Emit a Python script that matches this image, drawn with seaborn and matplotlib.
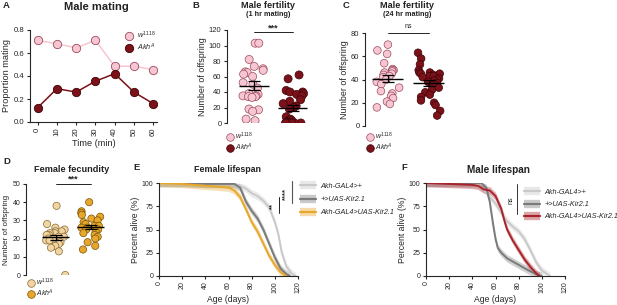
import numpy as np
import pandas as pd
import seaborn as sns
import matplotlib.pyplot as plt
from matplotlib.lines import Line2D

# ---- data ----
time_min = [0, 10, 20, 30, 40, 50, 60]
mating_w1118 = [0.71, 0.68, 0.645, 0.71, 0.485, 0.485, 0.455]
mating_akh = [0.125, 0.29, 0.26, 0.355, 0.42, 0.26, 0.16]

fert1h_w1118 = [103, 103, 82, 73, 70, 68, 66, 65, 63, 60, 52, 50, 45, 38, 37,
                35, 35, 34, 34, 33, 18, 17, 15, 5, 3]
fert1h_akh = [62, 57, 42, 40, 40, 38, 37, 35, 30, 28, 25, 22, 20, 18, 8, 5, 3,
              2, 1, 0, 0, 0, 0, 0, 0, 0, 0]

fert24h_w1118 = [70, 65, 62, 54, 49, 48, 48, 47, 46, 45, 44, 43, 42, 40, 38,
                 36, 33, 30, 28, 26, 24, 21, 19, 16]
fert24h_akh = [63, 58, 53, 48, 46, 46, 45, 45, 44, 43, 43, 42, 41, 40, 39, 38,
               37, 36, 35, 33, 31, 29, 27, 25, 22, 20, 18, 13, 9]

fec_w1118 = [38, 28, 26, 25, 24, 24, 23, 23, 22, 22, 21, 21, 20, 20, 19, 19,
             18, 17, 16, 15, 13, 0]
fec_akh = [40, 35, 34, 33, 32, 31, 30, 29, 28, 27, 27, 26, 26, 25, 25, 24, 23,
           22, 21, 20, 18, 16, 14]

genotypes = ['Akh-GAL4>+', '+>UAS-Kir2.1', 'Akh-GAL4>UAS-Kir2.1']

f_days = [[0, 20, 40, 60, 65, 70, 75, 80, 85, 90, 95, 100, 103, 106, 110, 115, 118],
          [0, 20, 40, 60, 65, 70, 75, 80, 85, 90, 95, 100, 105, 110, 113],
          [0, 20, 40, 60, 65, 70, 75, 80, 85, 90, 95, 100, 105, 110]]
f_surv = [[100, 100, 99, 99, 99, 97, 94, 89, 86, 81, 74, 58, 45, 25, 10, 2, 0],
          [100, 100, 99, 99, 99, 95, 80, 70, 62, 50, 35, 20, 8, 2, 0],
          [100, 99, 97, 95, 92, 85, 72, 58, 48, 35, 22, 12, 4, 0]]

m_days = [[0, 20, 40, 45, 50, 55, 60, 65, 70, 75, 80, 85, 90, 95, 100, 107],
          [0, 20, 40, 48, 52, 55, 58, 60, 62, 65, 70, 80, 90, 95, 100],
          [0, 20, 40, 45, 50, 55, 60, 65, 68, 70, 75, 80, 85, 90, 95, 98]]
m_surv = [[100, 100, 99, 98, 93, 85, 78, 68, 59, 53, 48, 40, 28, 15, 6, 0],
          [100, 100, 100, 100, 95, 80, 55, 40, 30, 25, 19, 12, 5, 2, 0],
          [100, 99, 98, 97, 93, 92, 86, 72, 58, 50, 38, 28, 18, 10, 3, 0]]
band = 4  # half width of shaded band (%)

# ---- style ----
sns.set_style('ticks')
plt.rcParams['font.family'] = ['Liberation Sans', 'DejaVu Sans']
plt.rcParams['mathtext.fontset'] = 'custom'
plt.rcParams['mathtext.it'] = 'Liberation Sans:italic'
plt.rcParams['mathtext.rm'] = 'Liberation Sans'
plt.rcParams['axes.linewidth'] = 0.8
plt.rcParams['xtick.major.width'] = 0.8
plt.rcParams['ytick.major.width'] = 0.8
plt.rcParams['xtick.major.size'] = 2.5
plt.rcParams['ytick.major.size'] = 2.5
plt.rcParams['xtick.major.pad'] = 1.5
plt.rcParams['ytick.major.pad'] = 1.5
np.random.seed(3)

W, H = 617, 305
fig = plt.figure(figsize=(W / 100, H / 100), dpi=100)


def rect(x0, y0, x1, y1):
    return [x0 / W, 1 - y1 / H, (x1 - x0) / W, (y1 - y0) / H]


def fx(x):
    return x / W


def fy(y):
    return 1 - y / H


LAB_W = r'$\mathit{w}^{\mathit{1118}}$'
LAB_A = r'$\mathit{Akh}^{\mathit{A}}$'

pink, pink_e = '#F6C6D3', '#9E4A5C'
dred, dred_e = '#7D1119', '#3A0508'
tan, tan_e = '#F0D4A2', '#8C6A30'
orng, orng_e = '#E6A72A', '#7A5208'


def finish(ax, ts):
    sns.despine(ax=ax)
    ax.tick_params(labelsize=ts, direction='out')


def panel_letter(x, y, s):
    fig.text(fx(x), fy(y), s, fontsize=6.8, fontweight='bold', va='center')


def title(x, y, s, size):
    fig.text(fx(x), fy(y), s, fontsize=size, fontweight='bold', ha='center',
             va='center', color='#222222')


def dot_legend(x, y, cols, ecs):
    h = [Line2D([], [], marker='o', ls='', ms=5.5, mfc=cols[0], mec=ecs[0], mew=0.5),
         Line2D([], [], marker='o', ls='', ms=5.5, mfc=cols[1], mec=ecs[1], mew=0.5)]
    fig.legend(h, [LAB_W, LAB_A], loc='upper left', frameon=False, fontsize=5.0,
               handletextpad=0.1, labelspacing=-0.05, handlelength=1.2,
               bbox_to_anchor=(fx(x), fy(y)), borderaxespad=0, borderpad=0)


# ---- A: male mating ----
axA = fig.add_axes(rect(30, 30, 157, 122))
dfA = pd.DataFrame({'t': time_min * 2,
                    'p': mating_w1118 + mating_akh,
                    'g': [LAB_W] * 7 + [LAB_A] * 7})
sns.lineplot(data=dfA, x='t', y='p', hue='g', palette=[pink, dred], ax=axA,
             marker='o', markersize=6, linewidth=1.1, legend=False,
             markeredgewidth=0.6)
for ln, ec in zip(axA.lines, [pink_e, dred_e]):
    ln.set_markeredgecolor(ec)
axA.set_xlim(-4, 62)
axA.set_ylim(0, 0.8)
axA.set_xticks(time_min)
axA.set_yticks([0, 0.2, 0.4, 0.6, 0.8])
axA.set_yticklabels(['0.0', '0.2', '0.4', '0.6', '0.8'])
axA.tick_params(axis='x', labelrotation=90)
axA.set_xlabel('Time (min)', fontsize=6.6, labelpad=2)
axA.set_ylabel('Proportion mating', fontsize=6.6, labelpad=2)
finish(axA, 5.6)
hA = [Line2D([], [], marker='o', ls='', ms=6, mfc=pink, mec=pink_e, mew=0.6),
      Line2D([], [], marker='o', ls='', ms=6, mfc=dred, mec=dred_e, mew=0.6)]
axA.legend(hA, [LAB_W, LAB_A], loc='upper right', frameon=False, fontsize=5.2,
           handletextpad=0.1, borderaxespad=0.1, labelspacing=0.1,
           bbox_to_anchor=(1.02, 1.04))
panel_letter(3, 6, 'A')
title(96, 7, 'Male mating', 8.0)


# ---- dot plots ----
def dotplot(rc, a, b, cols, ecs, ymax, step, xlim, sig, sigy, msize, ts, ls):
    ax = fig.add_axes(rect(*rc))
    df = pd.DataFrame({'g': ['w'] * len(a) + ['a'] * len(b), 'v': a + b})
    sns.stripplot(data=df, x='g', y='v', hue='g', palette=cols, ax=ax,
                  size=msize, linewidth=0.5, jitter=0.3, legend=False)
    for coll, ec in zip(ax.collections, ecs):
        coll.set_edgecolor(ec)
    for i, vals in enumerate([a, b]):
        m = np.mean(vals)
        se = np.std(vals, ddof=1) / np.sqrt(len(vals))
        ax.hlines(m, i - 0.38, i + 0.38, color='black', lw=1.0, zorder=5)
        ax.errorbar(i, m, yerr=se, color='black', lw=0.9, capsize=4,
                    capthick=0.9, zorder=5)
    ax.set_xlim(*xlim)
    ax.set_ylim(0, ymax)
    ax.set_yticks(np.arange(0, ymax + 1, step))
    ax.set_xticks([])
    ax.set_xlabel('')
    ax.set_ylabel('Number of offspring', fontsize=ls, labelpad=1.5)
    finish(ax, ts)
    ax.spines['bottom'].set_visible(False)
    ax.plot([0, 1], [sigy, sigy], color='black', lw=0.6, clip_on=False)
    if sig == 'ns':
        ax.text(0.5, sigy + ymax * 0.03, sig, ha='center', va='bottom', fontsize=5)
    else:
        ax.text(0.5, sigy, sig, ha='center', va='bottom',
                fontsize=6.5, fontweight='bold')
    return ax


dotplot((227, 30, 308, 123), fert1h_w1118, fert1h_akh, [pink, dred],
        [pink_e, dred_e], 120, 20, (-0.7, 1.4), '***', 117, 5.8, 5.5, 6.4)
dot_legend(226, 131, [pink, dred], [pink_e, dred_e])
panel_letter(192, 6, 'B')
title(268, 5, 'Male fertility', 6.6)
title(268, 14, '(1 hr mating)', 5.2)

dotplot((365, 33, 447, 126), fert24h_w1118, fert24h_akh, [pink, dred],
        [pink_e, dred_e], 80, 20, (-0.55, 1.45), 'ns', 80, 5.5, 5.5, 6.4)
dot_legend(366, 131, [pink, dred], [pink_e, dred_e])
panel_letter(343, 6, 'C')
title(407, 5, 'Male fertility', 6.6)
title(407, 14, '(24 hr mating)', 5.2)

dotplot((26, 184, 108, 275), fec_w1118, fec_akh, [tan, orng],
        [tan_e, orng_e], 50, 10, (-0.85, 1.5), '***', 50, 5.2, 5.0, 5.8)
dot_legend(27, 277, [tan, orng], [tan_e, orng_e])
panel_letter(3, 162, 'D')
title(72, 169, 'Female fecundity', 6.6)


# ---- survival panels ----
def survival(rc, days, surv, cols):
    ax = fig.add_axes(rect(*rc))
    handles = []
    for d, s, c in zip(days, surv, cols):
        d = np.array(d)
        s = np.array(s, dtype=float)
        ax.fill_between(d, np.clip(s - band, 0, 100), np.clip(s + band, 0, 100),
                        color=c, alpha=0.35, lw=0)
        sns.lineplot(x=d, y=s, color=c, lw=1.4, ax=ax)
        handles.append((Line2D([], [], color=c, lw=6, alpha=0.4, solid_capstyle='butt'),
                        Line2D([], [], color=c, lw=1.6)))
    ax.set_xlim(0, 120)
    ax.set_ylim(0, 100)
    ax.set_xticks(range(0, 121, 20))
    ax.set_yticks([0, 25, 50, 75, 100])
    ax.tick_params(axis='x', labelrotation=90)
    ax.set_xlabel('Age (days)', fontsize=6.2, labelpad=1.5)
    ax.set_ylabel('Percent alive (%)', fontsize=6.2, labelpad=1.5)
    finish(ax, 5.0)
    return ax, handles


gray_l, gray_d = '#C9C9C9', '#7B7B7B'
axE, hE = survival((159, 183, 298, 276), f_days, f_surv, [gray_l, gray_d, orng])
axE.legend(hE, genotypes, loc='upper left', frameon=False,
           bbox_to_anchor=(fx(297), fy(180)), bbox_transform=fig.transFigure,
           handlelength=2.2, handletextpad=0.7, labelspacing=0.85,
           borderaxespad=0, prop={'style': 'italic', 'size': 5.2})
fig.add_artist(Line2D([fx(292)] * 2, [fy(181), fy(203)], color='#555555', lw=0.8))
fig.add_artist(Line2D([fx(279)] * 2, [fy(197), fy(213)], color='#222222', lw=0.7))
fig.text(fx(286), fy(194), '****', rotation=90, fontsize=5.5, fontweight='bold',
         ha='center', va='center')
fig.text(fx(273), fy(206), '**', rotation=90, fontsize=5.5, fontweight='bold',
         ha='center', va='center')
panel_letter(133, 168, 'E')
title(227, 169, 'Female lifespan', 6.4)

axF, hF = survival((426, 183, 565, 276), m_days, m_surv, [gray_l, gray_d, '#A8242A'])
axF.legend(hF, genotypes, loc='upper left', frameon=False,
           bbox_to_anchor=(fx(521), fy(186)), bbox_transform=fig.transFigure,
           handlelength=2.2, handletextpad=0.6, labelspacing=0.7,
           borderaxespad=0, prop={'style': 'italic', 'size': 5.2})
fig.add_artist(Line2D([fx(517)] * 2, [fy(184), fy(214)], color='#333333', lw=0.7))
fig.text(fx(511), fy(200), 'ns', rotation=90, fontsize=5.2, ha='center', va='center')
panel_letter(401, 168, 'F')
title(498, 170, 'Male lifespan', 7.2)

fig.savefig('out.png', dpi=100)
